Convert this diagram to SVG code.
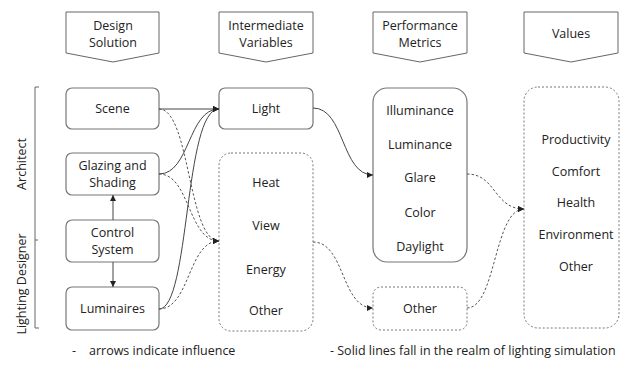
<svg xmlns="http://www.w3.org/2000/svg" width="623" height="366" viewBox="0 0 623 366">
<style>
text{font-family:"Open Sans","Liberation Sans",sans-serif;font-size:12.5px;fill:#222;text-anchor:middle}
.hdr{fill:#fff;stroke:#666;stroke-width:1}
.box{fill:#fff;stroke:#777;stroke-width:1.2}
.dbox{fill:#fff;stroke:#777;stroke-width:1;stroke-dasharray:2 2}
.s{fill:none;stroke:#444;stroke-width:1}
.d{fill:none;stroke:#555;stroke-width:1;stroke-dasharray:2.5 2}
.br{fill:none;stroke:#666;stroke-width:1}
</style>
<defs>
<marker id="ah" viewBox="0 0 6 6" refX="6" refY="3" markerWidth="6" markerHeight="6" markerUnits="userSpaceOnUse" orient="auto">
<path d="M0,0 L6,3 L0,6 z" fill="#222"/>
</marker>
</defs>

<g id="headers">
<g id="h-design"><path class="hdr" d="M66,12 H159 V53 L113,62 L66,53 Z"/><text x="113" y="29.5">Design</text><text x="113" y="46.5">Solution</text></g>
<g id="h-inter"><path class="hdr" d="M219,12 H313 V53 L266,62 L219,53 Z"/><text x="266" y="29.5">Intermediate</text><text x="266" y="46.5">Variables</text></g>
<g id="h-perf"><path class="hdr" d="M373,12 H467 V53 L420,62 L373,53 Z"/><text x="420" y="29.5">Performance</text><text x="420" y="46.5">Metrics</text></g>
<g id="h-values"><path class="hdr" d="M524,12 H618 V53 L571,62 L524,53 Z"/><text x="571" y="38">Values</text></g>
</g>

<g id="roles">
<path class="br" d="M39,87 H35 V328 H39 M35,240 H38"/>
<text transform="translate(26,164) rotate(-90)">Architect</text>
<text transform="translate(26,284) rotate(-90)">Lighting Designer</text>
</g>

<g id="scene"><rect class="box" x="66" y="88" width="93" height="41" rx="6"/><text x="112.5" y="113">Scene</text></g>
<g id="glazing"><rect class="box" x="66" y="153" width="93" height="42" rx="6"/><text x="112.5" y="170">Glazing and</text><text x="112.5" y="187">Shading</text></g>
<g id="control"><rect class="box" x="66" y="220" width="93" height="42" rx="6"/><text x="112.5" y="237">Control</text><text x="112.5" y="254">System</text></g>
<g id="luminaires"><rect class="box" x="66" y="287" width="93" height="43" rx="6"/><text x="112.5" y="313">Luminaires</text></g>

<g id="light"><rect class="box" x="219" y="88" width="94" height="41" rx="6"/><text x="266" y="113">Light</text></g>
<g id="other-vars"><rect class="dbox" x="219" y="153" width="94" height="178" rx="12"/>
<text x="266" y="187">Heat</text><text x="266" y="230">View</text><text x="266" y="274">Energy</text><text x="266" y="315">Other</text></g>

<g id="metrics"><rect class="box" x="373" y="88" width="94" height="174" rx="14"/>
<text x="420" y="115">Illuminance</text><text x="420" y="149">Luminance</text><text x="420" y="182">Glare</text><text x="420" y="217">Color</text><text x="420" y="251">Daylight</text></g>
<g id="other-metrics"><rect class="dbox" x="373" y="287" width="94" height="43" rx="8"/><text x="420" y="313">Other</text></g>

<g id="values"><rect class="dbox" x="524" y="87" width="95" height="241" rx="14"/>
<text x="576" y="144">Productivity</text><text x="576" y="176">Comfort</text><text x="576" y="207">Health</text><text x="576" y="239">Environment</text><text x="576" y="271">Other</text></g>

<g id="connectors">
<path class="s" d="M159,109 H219" marker-end="url(#ah)"/>
<path class="d" d="M159,109 C190,109 188,241 219,241" marker-end="url(#ah)"/>
<path class="s" d="M159,174 C190,174 188,109 219,109" marker-end="url(#ah)"/>
<path class="d" d="M159,174 C190,174 188,241 219,241" marker-end="url(#ah)"/>
<path class="s" d="M159,309 C190,309 184,109 219,109" marker-end="url(#ah)"/>
<path class="d" d="M159,309 C190,309 188,241 219,241" marker-end="url(#ah)"/>
<path class="s" d="M113,220 V195" marker-end="url(#ah)"/>
<path class="s" d="M113,262 V287" marker-end="url(#ah)"/>
<path class="s" d="M313,108 C345,108 341,175 373,175" marker-end="url(#ah)"/>
<path class="d" d="M313,242 C345,242 341,308 373,308" marker-end="url(#ah)"/>
<path class="d" d="M467,174 C496,174 494,209 524,209" marker-end="url(#ah)"/>
<path class="d" d="M467,308 C496,308 494,209 524,209" marker-end="url(#ah)"/>
</g>

<g id="notes">
<text x="74" y="355">-</text>
<text x="89" y="355" style="text-anchor:start">arrows indicate influence</text>
<text x="330" y="355" style="text-anchor:start">- Solid lines fall in the realm of lighting simulation</text>
</g>
</svg>
